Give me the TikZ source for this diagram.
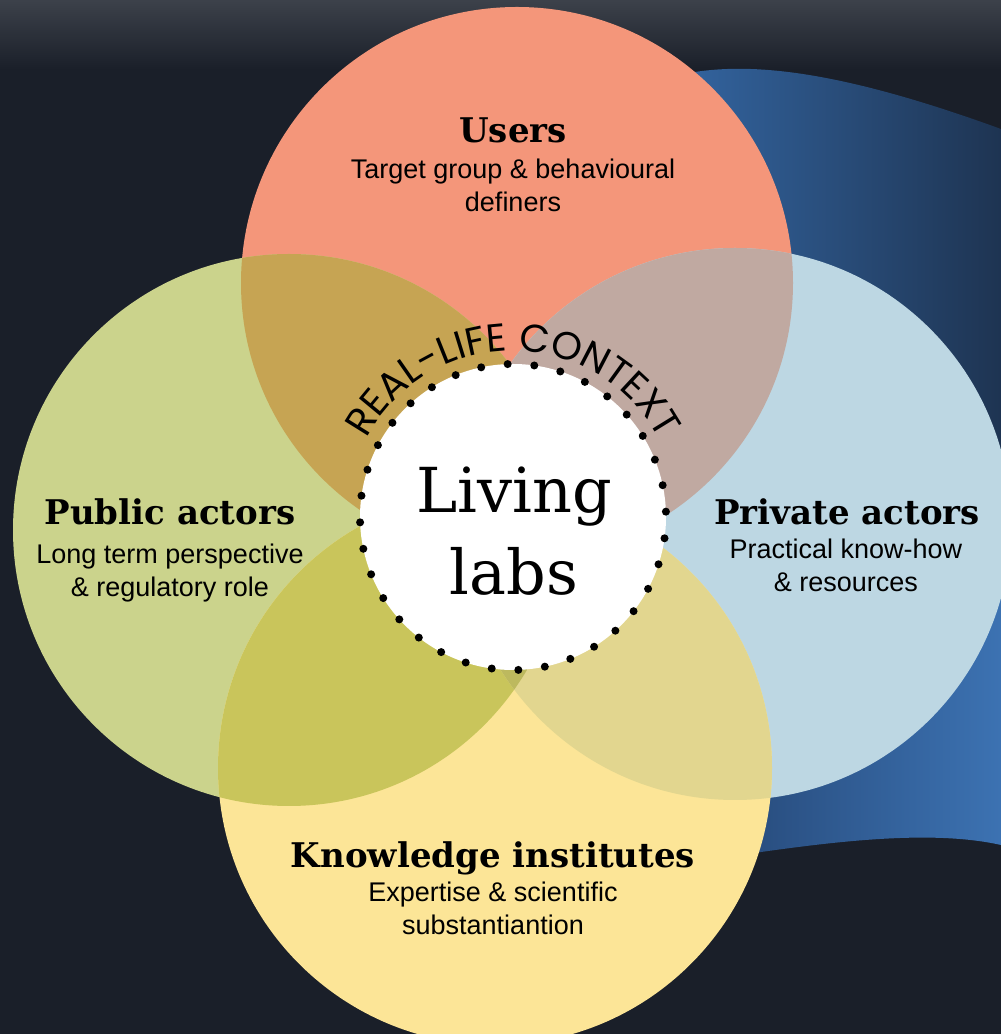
\documentclass[tikz,border=0pt]{standalone}
\usepackage{fontspec}
\usetikzlibrary{decorations.text}
\newfontfamily\slabfont{DejaVu Serif}
\newfontfamily\plainfont{Liberation Sans}
\newfontfamily\roundfont{Poppins}
\definecolor{bgdark}{HTML}{1A1F29}
\definecolor{bgtop}{HTML}{3C414A}
\definecolor{fabriclight}{HTML}{32629C}
\definecolor{fabricdeep}{HTML}{1E3452}
\definecolor{fabricmid}{HTML}{284C7D}
\definecolor{fabricbright}{HTML}{3C72B2}
\definecolor{usercol}{HTML}{F4967A}
\definecolor{publiccol}{HTML}{CBD38C}
\definecolor{privatecol}{HTML}{BDD7E3}
\definecolor{knowcol}{HTML}{FCE597}
\definecolor{userpub}{HTML}{C6A453}
\definecolor{userpriv}{HTML}{C0A9A1}
\definecolor{pubknow}{HTML}{C9C55B}
\definecolor{privknow}{HTML}{E2D68F}
\definecolor{pubprivknow}{HTML}{BDB95E}
\tikzset{
  head/.style={font=\slabfont\bfseries\fontsize{17}{20}\selectfont, anchor=base},
  sub/.style={font=\plainfont\fontsize{13.5}{16.5}\selectfont, align=center, anchor=base},
  labsfont/.style={font=\slabfont\fontsize{31}{41}\selectfont, anchor=base},
}
\begin{document}
\begin{tikzpicture}[x=0.5pt,y=0.5pt]
\useasboundingbox (0,0) rectangle (1001,1034);
% background
\fill[bgdark] (0,0) rectangle (1001,1034);
\shade[top color=bgtop,bottom color=bgdark] (0,964) rectangle (1001,1034);
\shade[left color=fabriclight,right color=fabricdeep] (695,962) .. controls (760,972) and (850,960) .. (1001,905) -- (1001,450) -- (790,450) -- cycle;
\shade[left color=fabricmid,right color=fabricbright] (740,179) .. controls (830,192) and (930,205) .. (1001,189) -- (1001,440) -- (760,440) -- cycle;

\coordinate (U) at (517,751);
\coordinate (P) at (289,504);
\coordinate (R) at (735,510);
\coordinate (K) at (495,266);
\coordinate (C) at (513,517);

% the four circles
\fill[usercol] (U) circle (276);
\fill[publiccol] (P) circle (276);
\fill[privatecol] (R) circle (276);
\fill[knowcol] (K) circle (277);
% overlaps
\begin{scope}
  \clip (U) circle (276);
  \fill[userpub] (P) circle (276);
  \fill[userpriv] (R) circle (276);
\end{scope}
\begin{scope}
  \clip (K) circle (277);
  \fill[pubknow] (P) circle (276);
  \fill[privknow] (R) circle (276);
  \clip (P) circle (276);
  \fill[pubprivknow] (R) circle (276);
\end{scope}

% centre
\fill[white] (C) circle (153);
\foreach \a in {2,12,...,352}
  \fill (C) ++(\a:153) circle (4);
\path[decorate,decoration={text along path,text align=center,
  text={|\roundfont\fontsize{19.5}{20}\selectfont|REAL-LIFE CONTEXT}}]
  (C) ++(155:166) arc[start angle=155,end angle=25,radius=166];
\node[labsfont] (living) at (514,521) {Living};
\node[labsfont] (labs) at (514,439) {labs};

% labels
\node[head] (users) at (513,891) {Users};
\node[sub] (userstxt) at (513,822) {Target group \& behavioural\\definers};
\node[head] (public) at (170,509) {Public actors};
\node[sub] (publictxt) at (170,437) {Long term perspective\\\& regulatory role};
\node[head] (private) at (847,509) {Private actors};
\node[sub] (privatetxt) at (846,442) {Practical know-how\\\& resources};
\node[head] (know) at (493,166) {Knowledge institutes};
\node[sub] (knowtxt) at (493,99) {Expertise \& scientific\\substantiantion};
\end{tikzpicture}
\end{document}
